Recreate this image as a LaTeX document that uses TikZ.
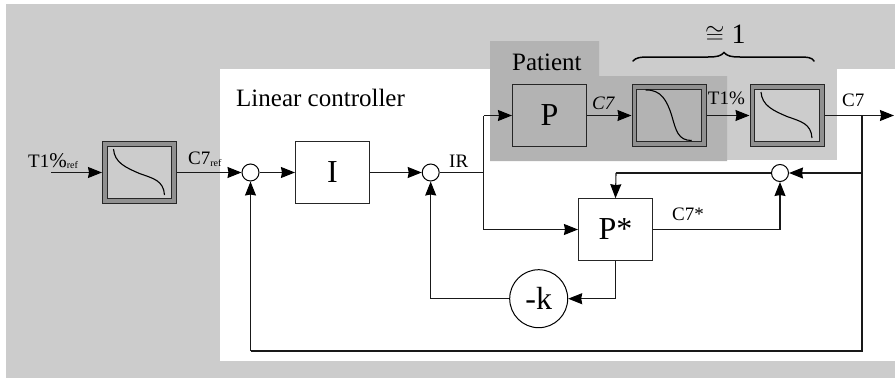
\documentclass[tikz,border=0pt]{standalone}
\usepackage{fontspec}
\setmainfont{Liberation Serif}
\usetikzlibrary{arrows.meta,calc}
\definecolor{bgl}{HTML}{CCCCCC}
\definecolor{bgd}{HTML}{B3B3B3}
\definecolor{band}{HTML}{909090}
\newcommand\fsz[1]{\fontsize{#1}{#1}\selectfont}
\newcommand\subref{\raisebox{-0.2ex}{\fsz{10}ref}}
\tikzset{
  wire/.style={line width=1.1pt,draw=black!90},
  arr/.style={wire,-{Stealth[length=14pt,width=11pt,inset=1pt,color=black]}},
  blk/.style={draw=black!85,line width=1.1pt,minimum width=74pt,minimum height=61.5pt,inner sep=0pt,font=\fsz{32}},
  sumj/.style={circle,draw=black,line width=1pt,fill=white,minimum size=17pt,inner sep=0pt},
  filtout/.style={draw=black!85,line width=1pt,fill=band,minimum width=74pt,minimum height=61.5pt,inner sep=0pt},
  filtin/.style={draw=black!85,line width=1pt,minimum width=64.5pt,minimum height=52.5pt,inner sep=0pt},
  curve/.style={line width=1.1pt,draw=black},
  lab/.style={anchor=base west,inner sep=0pt,font=\fsz{19}},
  ttl/.style={anchor=base west,inner sep=0pt,font=\fsz{25}},
}
\newcommand\curveDown[1]{\draw[curve] ($(#1)+(-23.3,-25.5)$) .. controls ($(#1)+(-8,-26)$) and ($(#1)+(-2,-15)$) .. ($(#1)+(2.7,0)$) .. controls ($(#1)+(7,15)$) and ($(#1)+(9,25)$) .. ($(#1)+(22.7,25)$);}
\newcommand\curveInv[1]{\draw[curve] ($(#1)+(-26,-23.5)$) .. controls ($(#1)+(-25,-10)$) and ($(#1)+(-14,-5)$) .. ($(#1)+(0,1)$) .. controls ($(#1)+(14,6)$) and ($(#1)+(24,8)$) .. ($(#1)+(25,22.5)$);}
\begin{document}
\begin{tikzpicture}[x=1pt,y=-1pt]
\useasboundingbox (0,0) rectangle (895,378);
% backgrounds
\fill[bgl] (6,4) rectangle (895,378);
\fill[white] (220,69) rectangle (895,361);
\fill[bgl] (490,41) rectangle (837,160);
\fill[bgd] (490,41) -- (599,41) -- (599,76) -- (727,76) -- (727,161) -- (490,161) -- cycle;
% blocks
\node[filtout] (f0) at (139.5,172.5) {};
\node[filtin,fill=bgl] (f0i) at (139.5,172.5) {};
\node[filtout] (f1) at (669,115.5) {};
\node[filtin,fill=bgd] (f1i) at (669,115.5) {};
\node[filtout] (f2) at (787,115.5) {};
\node[filtin,fill=bgl] (f2i) at (787,115.5) {};
\curveInv{f0}
\curveDown{f1}
\curveInv{f2}
\node[blk] (P) at (549.5,115.5) {P};
\node[blk] (I) at (332.5,172.5) {I};
\node[blk] (Ps) at (615.5,229.5) {P*};
\node[sumj] (s1) at (250.5,172.5) {};
\node[sumj] (s2) at (430.7,172.5) {};
\node[sumj] (s3) at (780,173) {};
\node[circle,draw=black,line width=1pt,minimum size=58pt,inner sep=0pt,font=\fsz{32}] (k) at (538.7,298.7) {-k};
% free ends
\coordinate (in) at (51,172.5);
\coordinate (out) at (894,115.5);
\coordinate (br) at (862,115.5);
\coordinate (ir) at (483.7,172.5);
\coordinate (irtop) at (483.7,115.5);
\coordinate (fb) at (616,173);
\coordinate (c1) at (862,351);
\coordinate (c2) at (250.5,351);
\coordinate (rs3) at (862,173);
% connectors
\draw[arr] (in) -- (f0);
\draw[arr] (f0) -- (s1);
\draw[arr] (s1) -- (I);
\draw[arr] (I) -- (s2);
\draw[wire] (s2) -- (ir);
\draw[wire] (ir) -- (irtop);
\draw[arr] (irtop) -- (P);
\draw[arr] (P) -- (f1);
\draw[arr] (f1) -- (f2);
\draw[arr] (f2) -- (out);
\draw[wire] (br) -- (c1) -- (c2);
\draw[arr] (c2) -- (s1);
\draw[arr] (rs3) -- (s3);
\draw[wire] (s3) -- (fb);
\draw[arr] (fb) -- (Ps.north);
\draw[arr] (ir) |- (Ps.west);
\draw[arr] (Ps.east) -| (s3);
\draw[arr] (Ps.south) |- (k.east);
\draw[arr] (k.west) -| (s2);
% brace
\draw[line width=1.5pt,line cap=round] (633,61) .. controls (636,57.5) and (640,57) .. (650,57) -- (708,57) .. controls (717,57) and (721,56) .. (724,52.5) .. controls (727,56) and (731,57) .. (740,57) -- (798,57) .. controls (808,57) and (812,57.5) .. (814,61);
% labels
\node[lab] (lt1) at (28,167) {T1{\fsz{21}\%}\subref};
\node[lab] (lc7r) at (188,164.5) {C7\subref};
\node[lab] (lc7i) at (592,109) {\itshape C7};
\node[lab] (lt1p) at (707.7,104.3) {T1\%};
\node[lab] (lc7) at (842,106) {C7};
\node[lab] (lir) at (449,167) {IR};
\node[lab] (lc7s) at (672,220) {C7*};
\node[ttl] (lin) at (236,106) {Linear controller};
\node[ttl] (pat) at (512,70.7) {Patient};
\node[anchor=base west,inner sep=0pt,font=\fsz{28}] (one) at (705,43) {$\cong$ 1};
\end{tikzpicture}
\end{document}
